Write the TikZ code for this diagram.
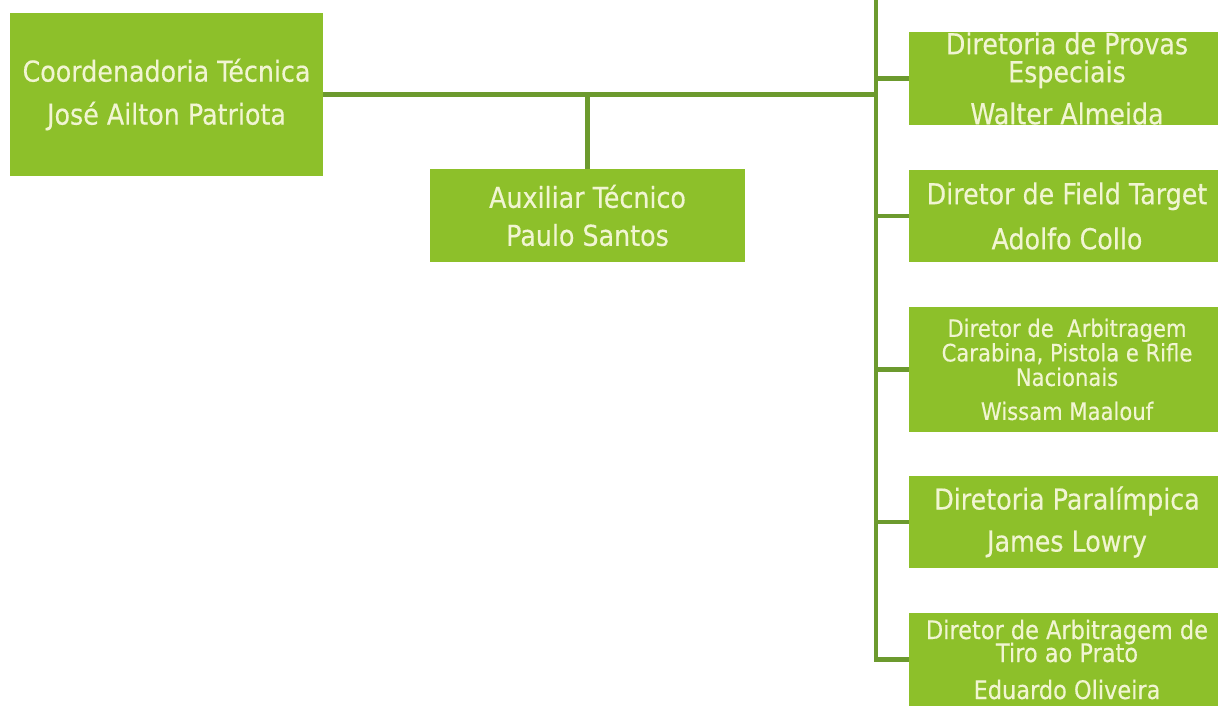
\documentclass[tikz,border=0pt]{standalone}
\usepackage{fontspec}
\setmainfont{DejaVu Sans}[FakeStretch=0.88,FakeBold=0.4]
\definecolor{boxgreen}{HTML}{8DC02A}
\definecolor{linegreen}{HTML}{6C9A2E}
\definecolor{boxtext}{HTML}{F1F5D2}
\tikzset{
  orgbox/.style={fill=boxgreen, draw=none, inner sep=0pt, align=center,
    text=boxtext, minimum width=316pt, minimum height=93pt},
  conn/.style={draw=linegreen, line width=4.2pt, line join=miter},
  bigfont/.style={font={\fontsize{28.8}{43}\selectfont\lineskiplimit=-30pt}},
}
\begin{document}
\begin{tikzpicture}[x=1pt,y=-1pt]
\useasboundingbox (0,0) rectangle (1218,709);
\clip (0,0) rectangle (1218,709);
\fill[white] (0,0) rectangle (1218,709);

\node[orgbox, bigfont, minimum width=313pt, minimum height=163pt] (coord) at (166.5,94.5)
  {Coordenadoria Técnica\\José Ailton Patriota};
\node[orgbox, font={\fontsize{28.8}{38}\selectfont\lineskiplimit=-30pt}, minimum width=315pt] (aux) at (587.5,215.5)
  {Auxiliar Técnico\\Paulo Santos};

\node[orgbox, font={\fontsize{28.8}{28}\selectfont\lineskiplimit=-30pt}] (d1) at (1067,78.5)
  {Diretoria de Provas\\Especiais\\[14pt]Walter Almeida};
\node[orgbox, font={\fontsize{28.8}{45}\selectfont\lineskiplimit=-30pt}, minimum height=92pt] (d2) at (1067,216)
  {Diretor de Field Target\\Adolfo Collo};
\node[orgbox, font={\fontsize{24}{24.5}\selectfont\lineskiplimit=-30pt}, minimum height=125pt] (d3) at (1067,369.5)
  {Diretor de\ \ Arbitragem\\Carabina, Pistola e Rifle\\Nacionais\\[9.5pt]Wissam Maalouf};
\node[orgbox, font={\fontsize{28.8}{42}\selectfont\lineskiplimit=-30pt}, minimum height=92pt] (d4) at (1067,522)
  {Diretoria Paralímpica\\James Lowry};
\node[orgbox, font={\fontsize{25.5}{23}\selectfont\lineskiplimit=-30pt}] (d5) at (1067,659.5)
  {Diretor de Arbitragem de\\Tiro ao Prato\\[14pt]Eduardo Oliveira};

\coordinate (ttop) at (876,-5);

\draw[conn] (coord.east) -- (coord.east -| ttop);
\draw[conn] (aux.north) -- (aux.north |- coord.east);
\draw[conn] (ttop) -- (ttop |- d5.west) -- (d5.west);
\foreach \d in {d1,d2,d3,d4} {
  \draw[conn] (ttop |- \d.west) -- (\d.west);
}
\end{tikzpicture}
\end{document}
